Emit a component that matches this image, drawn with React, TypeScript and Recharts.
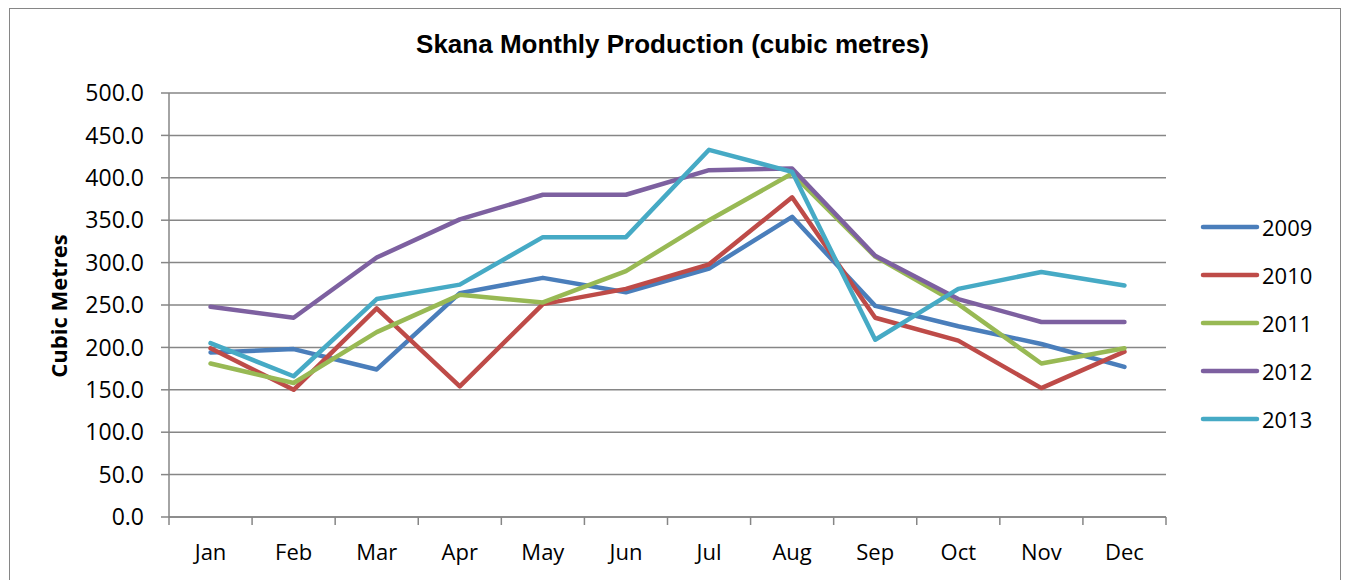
import React from 'react'
import {
  LineChart,
  Line,
  XAxis,
  YAxis,
  CartesianGrid,
  Legend,
} from 'recharts'

const MONTHS = ['Jan', 'Feb', 'Mar', 'Apr', 'May', 'Jun', 'Jul', 'Aug', 'Sep', 'Oct', 'Nov', 'Dec']

const Y2009 = [194, 198, 174, 264, 282, 265, 293, 354, 249, 225, 204, 177]
const Y2010 = [199, 150, 246, 154, 251, 269, 298, 377, 235, 208, 152, 195]
const Y2011 = [181, 158, 218, 262, 253, 290, 350, 405, 307, 251, 181, 199]
const Y2012 = [248, 235, 306, 351, 380, 380, 409, 411, 308, 257, 230, 230]
const Y2013 = [205, 166, 257, 274, 330, 330, 433, 407, 209, 269, 289, 273]

const Y_TICKS = [0, 50, 100, 150, 200, 250, 300, 350, 400, 450, 500]

const SERIES = [
  { key: 'y2009', name: '2009', values: Y2009, color: '#4a7ebb' },
  { key: 'y2010', name: '2010', values: Y2010, color: '#be4b48' },
  { key: 'y2011', name: '2011', values: Y2011, color: '#98b954' },
  { key: 'y2012', name: '2012', values: Y2012, color: '#7d60a0' },
  { key: 'y2013', name: '2013', values: Y2013, color: '#46aac5' },
]

const data = MONTHS.map((month, i) => {
  const row: Record<string, string | number> = { month }
  SERIES.forEach(s => { row[s.key] = s.values[i] })
  return row
})

// layout (px)
const W = 1345
const H = 580
const PLOT_LEFT = 169
const PLOT_RIGHT = 1166
const PLOT_TOP = 93
const PLOT_BOTTOM = 517
const Y_AXIS_W = 100
const X_AXIS_H = 30
const BAND = (PLOT_RIGHT - PLOT_LEFT) / MONTHS.length
const AXIS_COLOR = '#868686'
const FONT = '"Open Sans", sans-serif'
const X_TICK_SIZE = 8
const X_TICK_MARGIN = 19
const LINE_W = 4.5

// Excel puts the category tick marks between the categories
function MonthTick(props: any) {
  const { x, y, payload, index } = props
  const axisY = y - X_TICK_SIZE - X_TICK_MARGIN
  return (
    <g>
      <line x1={x - BAND / 2} x2={x - BAND / 2} y1={axisY} y2={axisY + X_TICK_SIZE} stroke={AXIS_COLOR} strokeWidth={1.5} />
      {index === MONTHS.length - 1 && (
        <line x1={x + BAND / 2} x2={x + BAND / 2} y1={axisY} y2={axisY + X_TICK_SIZE} stroke={AXIS_COLOR} strokeWidth={1.5} />
      )}
      <text x={x} y={y} dy={16} textAnchor="middle" fill="#000" fontSize={22} fontFamily={FONT}>
        {payload.value}
      </text>
    </g>
  )
}

function LegendBox(props: any) {
  const { payload } = props
  return (
    <div style={{ fontFamily: FONT, fontSize: 22, color: '#000' }}>
      {(payload || []).map((p: any) => (
        <div key={p.value} style={{ height: 48, display: 'flex', alignItems: 'center' }}>
          <svg width={60} height={10} style={{ display: 'block' }}>
            <line x1={3} x2={57} y1={5} y2={5} stroke={p.color} strokeWidth={LINE_W} strokeLinecap="round" />
          </svg>
          <span style={{ marginLeft: 2, lineHeight: '48px' }}>{p.value}</span>
        </div>
      ))}
    </div>
  )
}

export default function App() {
  return (
    <div style={{ position: 'relative', width: W, height: H, background: '#fff', overflow: 'hidden' }}>
      <style>{`body{margin:0}`}</style>
      <div
        style={{
          position: 'absolute', left: 9, top: 8, width: 1332, height: 600,
          border: `1.5px solid ${AXIS_COLOR}`, boxSizing: 'border-box',
        }}
      />
      <div
        style={{
          position: 'absolute', left: 0, width: W, top: 29, textAlign: 'center',
          fontFamily: '"Liberation Sans", Arial, sans-serif', fontWeight: 'bold', fontSize: 26,
        }}
      >
        Skana Monthly Production (cubic metres)
      </div>
      <LineChart
        width={W}
        height={H}
        data={data}
        margin={{ top: PLOT_TOP, right: W - PLOT_RIGHT, bottom: H - PLOT_BOTTOM - X_AXIS_H, left: PLOT_LEFT - Y_AXIS_W }}
      >
        <CartesianGrid vertical={false} stroke={AXIS_COLOR} strokeWidth={1.5} />
        <XAxis
          dataKey="month"
          height={X_AXIS_H}
          padding={{ left: BAND / 2, right: BAND / 2 }}
          stroke={AXIS_COLOR}
          strokeWidth={1.5}
          tickLine={false}
          tickSize={X_TICK_SIZE}
          tickMargin={X_TICK_MARGIN}
          tick={<MonthTick />}
          interval={0}
        />
        <YAxis
          width={Y_AXIS_W}
          domain={[0, 500]}
          ticks={Y_TICKS}
          tickFormatter={(v: number) => v.toFixed(1)}
          stroke={AXIS_COLOR}
          strokeWidth={1.5}
          tickSize={8}
          tickMargin={17}
          tick={{ fill: '#000', fontSize: 23, fontFamily: FONT }}
          label={{
            content: () => (
              <text
                x={0}
                y={0}
                transform="translate(67,306) rotate(-90)"
                textAnchor="middle"
                fontFamily={FONT}
                fontWeight="bold"
                fontSize={22}
                fill="#000"
              >
                Cubic Metres
              </text>
            ),
          }}
        />
        <Legend
          layout="vertical"
          align="center"
          verticalAlign="middle"
          content={<LegendBox />}
          wrapperStyle={{ left: 1200, top: 203, width: 140 }}
        />
        {SERIES.map(s => (
          <Line
            key={s.key}
            type="linear"
            dataKey={s.key}
            name={s.name}
            stroke={s.color}
            strokeWidth={LINE_W}
            strokeLinecap="round"
            strokeLinejoin="round"
            dot={false}
            activeDot={false}
            isAnimationActive={false}
          />
        ))}
      </LineChart>
    </div>
  )
}
